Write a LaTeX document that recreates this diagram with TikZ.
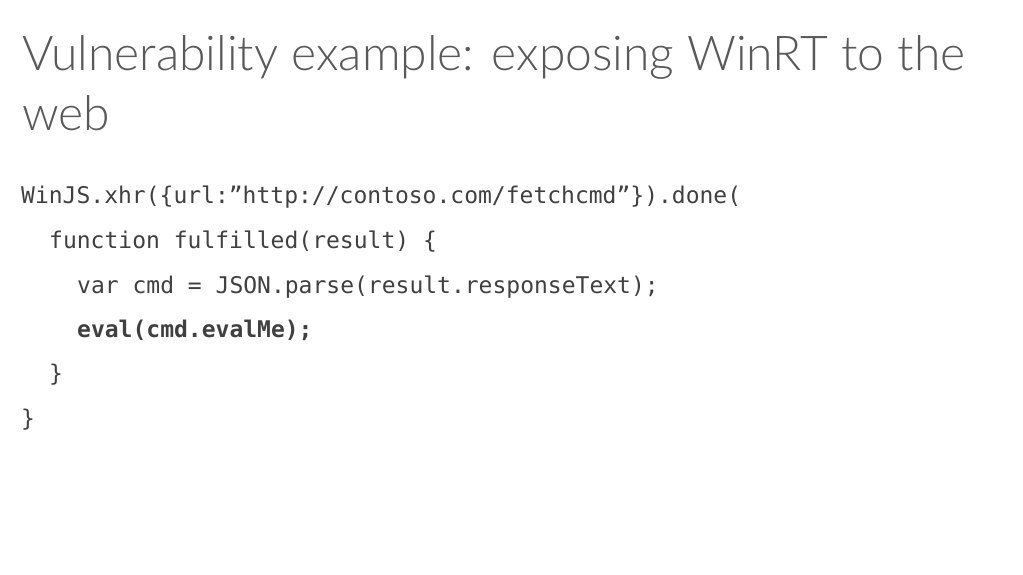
\documentclass[tikz,border=0pt]{standalone}
\usepackage{fontspec}
\setmainfont{Lato Light}
\setmonofont{DejaVu Sans Mono}
\definecolor{titlegray}{HTML}{595959}
\definecolor{codegray}{HTML}{404040}
\begin{document}
\begin{tikzpicture}[x=1pt,y=1pt,
  title/.style={anchor=base west,inner sep=0pt,text=titlegray,font=\fontsize{48}{60}\selectfont},
  code/.style={anchor=base west,inner sep=0pt,text=codegray,font=\ttfamily\fontsize{23}{28}\selectfont}]
\useasboundingbox[fill=white] (0,0) rectangle (1023,-575);
\node[title] (t1) at (22,-71) {Vulnerability example: exposing WinRT to the};
\node[title] (t2) at (22,-131) {web};
\node[code] (c1) at (21,-204) {WinJS.xhr(\{url:”http://contoso.com/fetchcmd”\}).done(};
\node[code] (c2) at (49,-248) {function fulfilled(result) \{};
\node[code] (c3) at (77,-293) {var cmd = JSON.parse(result.responseText);};
\node[code,font=\ttfamily\bfseries\fontsize{23}{28}\selectfont] (c4) at (77,-337) {eval(cmd.evalMe);};
\node[code] (c5) at (49,-381) {\}};
\node[code] (c6) at (21,-426) {\}};
\end{tikzpicture}
\end{document}
